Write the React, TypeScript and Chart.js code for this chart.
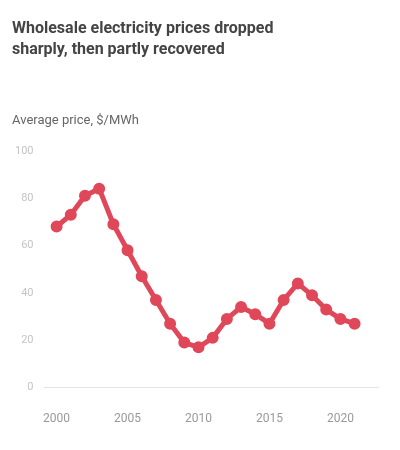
import React, { useEffect, useRef } from "react";
import { Chart, registerables } from "chart.js";

Chart.register(...registerables);

const titleLines = ["Wholesale electricity prices dropped", "sharply, then partly recovered"];
const subtitleText = "Average price, $/MWh";
const years = [2000, 2001, 2002, 2003, 2004, 2005, 2006, 2007, 2008, 2009, 2010, 2011, 2012, 2013, 2014, 2015, 2016, 2017, 2018, 2019, 2020, 2021];
const values = [68, 73, 81, 84, 69, 58, 47, 37, 27, 19, 17, 21, 29, 34, 31, 27, 37, 44, 39, 33, 29, 27];
const xTicks = [2000, 2005, 2010, 2015, 2020];
const yTicks = [0, 20, 40, 60, 80, 100];

export default function App() {
  const ref = useRef<HTMLCanvasElement | null>(null);
  useEffect(() => {
    if (!ref.current) return;
    const chart = new Chart(ref.current, {
      type: "line",
      data: {
        datasets: [
          {
            data: years.map((y, i) => ({ x: y, y: values[i] })),
            borderColor: "rgb(224, 72, 90)",
            backgroundColor: "rgb(224, 72, 90)",
            borderWidth: 5,
            pointRadius: 3.5,
            tension: 0,
          },
        ],
      },
      options: {
        animation: false,
        responsive: true,
        maintainAspectRatio: false,
        layout: { padding: { left: 4, right: 14, top: 8, bottom: 0 } },
        plugins: {
          legend: { display: false },
          title: {
            display: true,
            text: titleLines,
            align: "start",
            color: "#444",
            font: { family: "Roboto", size: 16, weight: "bold", lineHeight: 1.35 },
            padding: { top: 2, bottom: 52 },
          },
          subtitle: {
            display: true,
            text: subtitleText,
            align: "start",
            color: "#666",
            font: { family: "Roboto", size: 13 },
            padding: { bottom: 22 },
          },
          tooltip: { enabled: false },
        },
        scales: {
          x: {
            type: "linear",
            min: 1999.15,
            max: 2022.65,
            afterBuildTicks: (axis: any) => {
              axis.ticks = xTicks.map((v) => ({ value: v }));
            },
            grid: { display: false },
            border: { color: "#e4e4e4" },
            ticks: {
              color: "#999",
              font: { family: "Roboto", size: 12 },
              maxRotation: 0,
              padding: 16,
              callback: (v: any) => String(v),
            },
          },
          y: {
            min: yTicks[0],
            max: yTicks[yTicks.length - 1],
            afterBuildTicks: (axis: any) => {
              axis.ticks = yTicks.map((v) => ({ value: v }));
            },
            grid: { display: false },
            border: { display: false },
            ticks: { color: "#c4c4c4", font: { family: "Roboto", size: 11 } },
          },
        },
      },
    });
    return () => chart.destroy();
  }, []);
  return (
    <div style={{ width: 384, height: 434 }}>
      <canvas ref={ref} />
    </div>
  );
}
